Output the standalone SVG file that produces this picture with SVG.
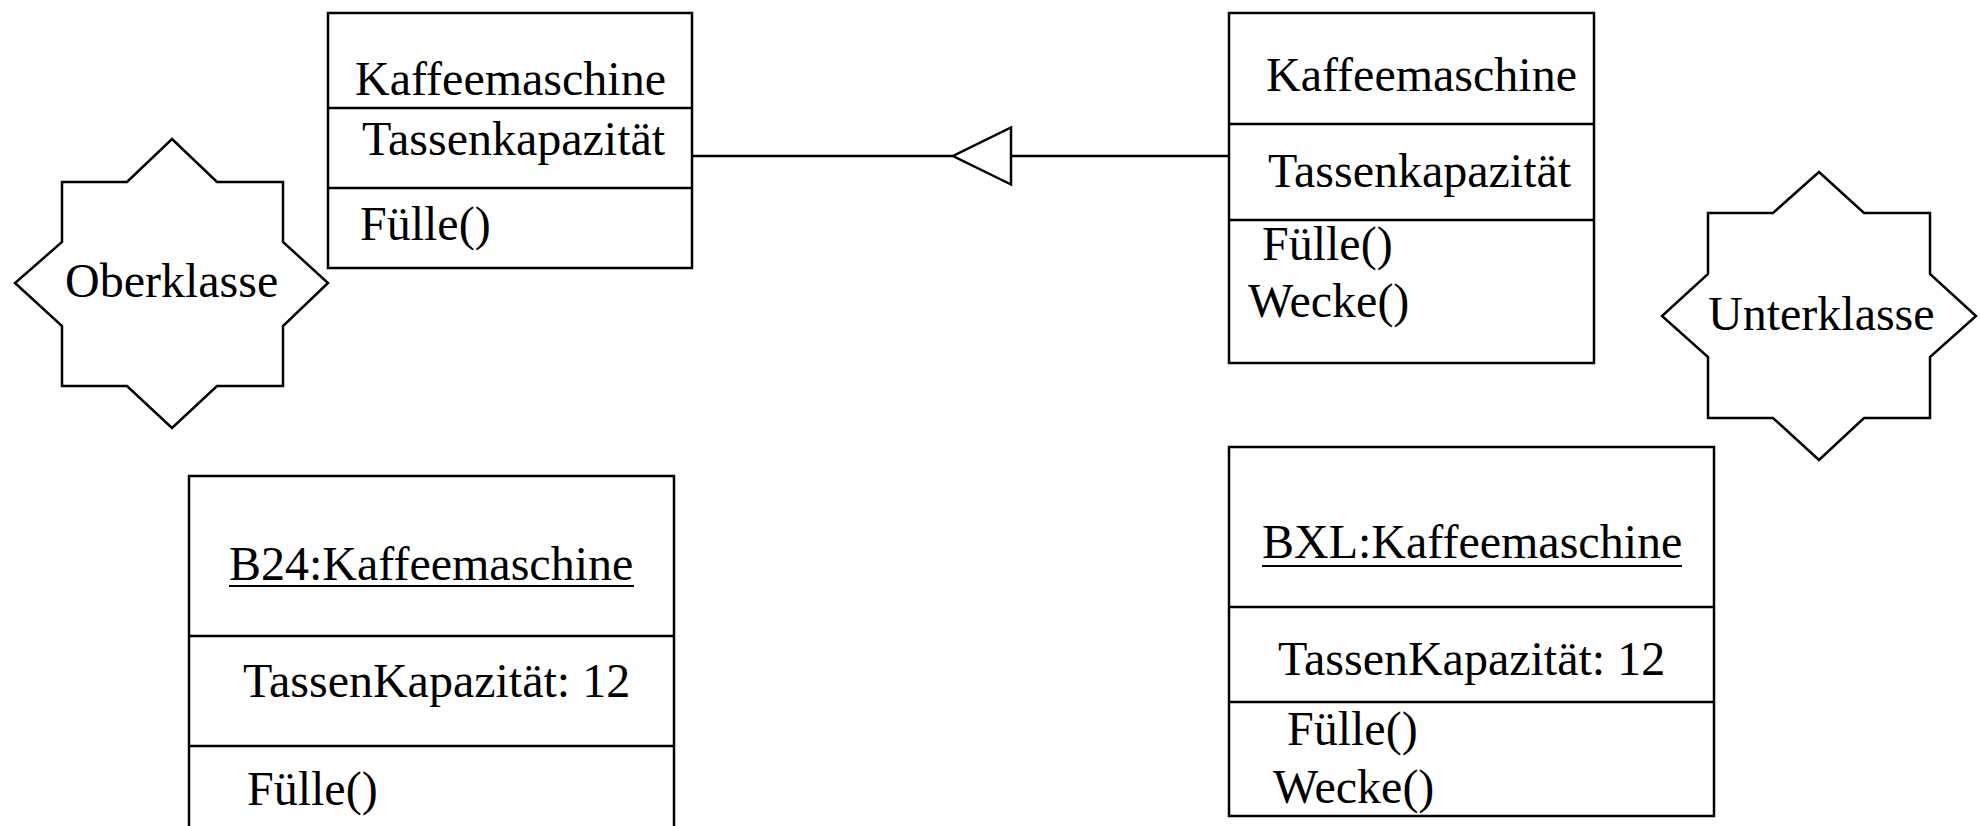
<svg xmlns="http://www.w3.org/2000/svg" width="1980" height="826" viewBox="0 0 1980 826">
<style>
.box{fill:#fff;stroke:#000;stroke-width:2.5}
.ln{fill:none;stroke:#000;stroke-width:2.5}
.star{fill:#fff;stroke:#000;stroke-width:2.5;stroke-linejoin:miter}
text{font-family:"Liberation Serif","Times New Roman",serif;font-size:48px;fill:#000}
.ul{stroke:#000;stroke-width:2}
</style>
<defs>
<marker id="gen" markerUnits="userSpaceOnUse" markerWidth="62" markerHeight="62" viewBox="-2 -2 62 62" refX="0" refY="28.5" orient="auto" overflow="visible">
<path d="M0,0 L58,28.5 L0,57 Z" fill="#fff" stroke="#000" stroke-width="2.5"/>
</marker>
</defs>
<rect width="1980" height="826" fill="#fff"/>
<g id="connectors">
<line class="ln" x1="692" y1="156" x2="953" y2="156"/>
<path class="ln" d="M1229,156 L1011,156" marker-end="url(#gen)"/>
</g>
<g id="class-super">
<rect class="box" x="328" y="13" width="364" height="255"/>
<line class="ln" x1="328" y1="108" x2="692" y2="108"/>
<line class="ln" x1="328" y1="188" x2="692" y2="188"/>
<text x="355" y="95">Kaffeemaschine</text>
<text x="362" y="155">Tassenkapazität</text>
<text x="360" y="240">Fülle()</text>
</g>
<g id="class-sub">
<rect class="box" x="1229" y="13" width="365" height="350"/>
<line class="ln" x1="1229" y1="124" x2="1594" y2="124"/>
<line class="ln" x1="1229" y1="220" x2="1594" y2="220"/>
<text x="1266" y="91">Kaffeemaschine</text>
<text x="1268" y="187">Tassenkapazität</text>
<text x="1262" y="260">Fülle()</text>
<text x="1248" y="317">Wecke()</text>
</g>
<g id="star-ober">
<polygon class="star" points="172,139 217,182 283,182 283,242 328,283 283,326 283,386 217,386 172,428 127,386 62,386 62,326 15,283 62,242 62,182 127,182"/>
<text x="65" y="297">Oberklasse</text>
</g>
<g id="star-unter">
<polygon class="star" points="1819,172 1864,213 1930,213 1930,274 1976,316 1930,357 1930,418 1864,418 1819,460 1773,418 1708,418 1708,357 1662,316 1708,274 1708,213 1773,213"/>
<text x="1708" y="330">Unterklasse</text>
</g>
<g id="object-b24">
<path class="ln" d="M189,840 L189,476 L674,476 L674,840"/>
<line class="ln" x1="189" y1="636" x2="674" y2="636"/>
<line class="ln" x1="189" y1="746" x2="674" y2="746"/>
<text x="229" y="580">B24:Kaffeemaschine</text>
<line class="ul" x1="229" y1="586" x2="634" y2="586"/>
<text x="243" y="697">TassenKapazität: 12</text>
<text x="247" y="805">Fülle()</text>
</g>
<g id="object-bxl">
<rect class="box" x="1229" y="447" width="485" height="369"/>
<line class="ln" x1="1229" y1="607" x2="1714" y2="607"/>
<line class="ln" x1="1229" y1="702" x2="1714" y2="702"/>
<text x="1262" y="558">BXL:Kaffeemaschine</text>
<line class="ul" x1="1262" y1="566" x2="1682" y2="566"/>
<text x="1278" y="675">TassenKapazität: 12</text>
<text x="1287" y="745">Fülle()</text>
<text x="1273" y="803">Wecke()</text>
</g>
</svg>
